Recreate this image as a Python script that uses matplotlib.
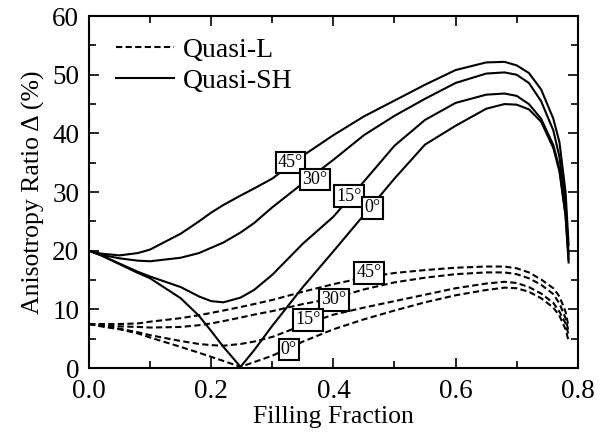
import numpy as np
import matplotlib
matplotlib.use("Agg")
import matplotlib.pyplot as plt
from matplotlib.ticker import MultipleLocator

plt.rcParams["font.family"] = ["Liberation Serif", "DejaVu Serif"]
plt.rcParams["mathtext.fontset"] = "stix"

# Filling fraction sample points
x = [0.0, 0.02, 0.05, 0.08, 0.1, 0.15, 0.18, 0.2, 0.22, 0.248, 0.27, 0.3, 0.35,
     0.4, 0.45, 0.5, 0.55, 0.6, 0.65, 0.68, 0.7, 0.72, 0.74, 0.76, 0.77,
     0.78, 0.785]

# Quasi-SH (solid) anisotropy ratio, %
sh_45 = [20.0, 19.5, 19.2, 19.6, 20.2, 22.9, 25.0, 26.5, 27.8, 29.4, 30.6, 32.3, 36.2,
         39.7, 42.9, 45.6, 48.3, 50.8, 52.1, 52.2, 51.6, 50.3, 47.5, 42.5, 38.5,
         30.0, 21.0]
sh_30 = [20.0, 19.3, 18.7, 18.3, 18.2, 18.8, 19.6, 20.5, 21.4, 23.1, 24.7, 27.4, 31.5,
         35.5, 39.7, 43.0, 45.9, 48.6, 50.2, 50.4, 50.0, 48.6, 45.5, 40.5, 36.0,
         28.0, 19.5]
sh_15 = [20.0, 19.2, 17.8, 16.4, 15.6, 13.8, 12.2, 11.4, 11.2, 12.0, 13.3, 15.9, 21.2,
         25.8, 31.8, 37.9, 42.3, 45.2, 46.6, 46.8, 46.4, 45.0, 42.5, 38.0, 34.0,
         26.0, 18.5]
sh_0 = [20.0, 19.2, 17.7, 16.2, 15.3, 11.9, 8.9, 6.3, 3.6, 0.2, 3.0, 7.2, 13.8,
        19.9, 26.1, 32.3, 38.1, 41.3, 44.2, 45.0, 44.9, 44.1, 42.0, 37.5, 33.5,
        26.0, 18.0]

# Quasi-L (dashed) anisotropy ratio, %
l_45 = [7.5, 7.5, 7.5, 7.6, 7.9, 8.5, 9.0, 9.4, 9.8, 10.4, 10.9, 11.6, 13.0,
        14.3, 15.4, 16.2, 16.7, 17.1, 17.3, 17.3, 17.0, 16.3, 15.1, 13.6, 12.2,
        9.6, 7.0]
l_30 = [7.5, 7.3, 7.1, 7.0, 6.9, 7.0, 7.3, 7.6, 8.0, 8.6, 9.1, 9.7, 10.9,
        11.9, 13.4, 14.6, 15.4, 16.0, 16.3, 16.3, 16.0, 15.3, 14.2, 12.6, 11.0,
        8.5, 6.2]
l_15 = [7.5, 7.2, 6.7, 6.1, 5.6, 4.6, 4.1, 3.9, 3.8, 4.1, 4.5, 5.3, 7.3,
        9.1, 10.3, 11.4, 12.5, 13.6, 14.4, 14.7, 14.5, 13.8, 12.7, 11.1, 9.6,
        7.6, 5.6]
l_0 = [7.5, 7.1, 6.6, 5.9, 5.2, 3.6, 2.6, 1.9, 1.2, 0.2, 1.0, 2.1, 4.5,
       6.6, 8.3, 9.8, 11.2, 12.4, 13.3, 13.7, 13.6, 13.0, 11.9, 10.3, 8.9,
       6.6, 4.6]

# Angle labels: (text, x, y)
sh_labels = [("45°", 0.330, 35.0), ("30°", 0.370, 32.1),
             ("15°", 0.425, 29.3), ("0°", 0.464, 27.3)]
l_labels = [("45°", 0.458, 16.2), ("30°", 0.401, 11.6),
            ("15°", 0.358, 8.2), ("0°", 0.327, 3.2)]

fig = plt.figure(figsize=(6.14, 4.41), dpi=100)
ax = fig.add_axes([0.145, 0.1655, 0.796, 0.798])

dash = (3.0, 1.6)
for i, y in enumerate([l_45, l_30, l_15, l_0]):
    ax.plot(x, y, color="black", lw=1.5, dashes=dash,
            label="Quasi-L" if i == 0 else None)
for i, y in enumerate([sh_45, sh_30, sh_15, sh_0]):
    ax.plot(x, y, color="black", lw=1.5, solid_joinstyle="round",
            label="Quasi-SH" if i == 0 else None)

for txt, lx, ly in sh_labels + l_labels:
    ax.text(lx, ly, txt, fontsize=13, ha="center", va="center", zorder=5,
            bbox=dict(boxstyle="square,pad=0.12", fc="white", ec="black", lw=1.5))

ax.set_xlim(0, 0.8)
ax.set_ylim(0, 60)
ax.xaxis.set_major_locator(MultipleLocator(0.2))
ax.xaxis.set_minor_locator(MultipleLocator(0.1))
ax.yaxis.set_major_locator(MultipleLocator(10))
ax.yaxis.set_minor_locator(MultipleLocator(5))
ax.xaxis.set_major_formatter(plt.FuncFormatter(lambda v, p: f"{v:.1f}"))
ax.tick_params(which="both", direction="in", top=True, right=True,
               labelsize=19.5, width=1.2)
ax.tick_params(axis="x", pad=8)
ax.tick_params(axis="y", pad=7)
ax.tick_params(which="major", length=7)
ax.tick_params(which="minor", length=5)
for s in ax.spines.values():
    s.set_linewidth(1.5)

ax.set_xlabel("Filling Fraction", fontsize=18.5, labelpad=1)
ax.set_ylabel("Anisotropy Ratio Δ (%)", fontsize=18.5, labelpad=5)

ax.legend(loc="upper left", bbox_to_anchor=(0.055, 0.94), frameon=False,
          fontsize=20, handlelength=2.1, handletextpad=0.3, borderpad=0,
          borderaxespad=0, labelspacing=0.2)

plt.savefig("out.png", dpi=100)
plt.close()
